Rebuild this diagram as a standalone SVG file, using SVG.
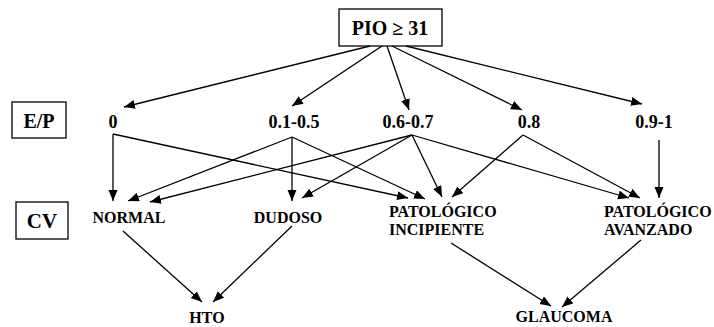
<svg xmlns="http://www.w3.org/2000/svg" width="714" height="327" viewBox="0 0 714 327">
  <defs>
    <marker id="arrow" markerUnits="userSpaceOnUse" markerWidth="12" markerHeight="10" refX="11" refY="4.5" orient="auto">
      <path d="M0,0 L11,4.5 L0,9 z" fill="#000"/>
    </marker>
    <style>
      .box { fill: #fff; stroke: #000; stroke-width: 1.3; }
      .big { font-size: 20px; }
      .lvl1 { font-size: 18px; text-anchor: middle; }
      .lvl2 { font-size: 16px; }
      .mid { text-anchor: middle; }
      #connectors line { stroke: #000; stroke-width: 1.3; marker-end: url(#arrow); }
    </style>
  </defs>
  <rect width="714" height="327" fill="#fff"/>

  <g font-family="Liberation Serif, Times New Roman, serif" font-weight="bold" fill="#000">
    <!-- root -->
    <g id="pio">
      <rect class="box" x="339" y="9" width="103" height="37"/>
      <text class="big mid" x="390" y="35">PIO ≥ 31</text>
    </g>

    <!-- row headers -->
    <g id="ep-label">
      <rect class="box" x="12" y="102" width="54" height="36"/>
      <text class="big mid" x="39" y="128">E/P</text>
    </g>
    <g id="cv-label">
      <rect class="box" x="16" y="202" width="52" height="37"/>
      <text class="mid" x="42" y="228" font-size="21">CV</text>
    </g>

    <!-- E/P values -->
    <g id="ep-0"><text class="lvl1" x="113" y="128">0</text></g>
    <g id="ep-01-05"><text class="lvl1" x="294" y="128">0.1-0.5</text></g>
    <g id="ep-06-07"><text class="lvl1" x="408" y="128">0.6-0.7</text></g>
    <g id="ep-08"><text class="lvl1" x="529" y="128">0.8</text></g>
    <g id="ep-09-1"><text class="lvl1" x="654" y="128">0.9-1</text></g>

    <!-- CV categories -->
    <g id="cv-normal"><text class="lvl2 mid" x="129" y="223">NORMAL</text></g>
    <g id="cv-dudoso"><text class="lvl2 mid" x="288" y="223">DUDOSO</text></g>
    <g id="cv-incipiente">
      <text class="lvl2" x="389" y="217">PATOLÓGICO</text>
      <text class="lvl2" x="389" y="235">INCIPIENTE</text>
    </g>
    <g id="cv-avanzado">
      <text class="lvl2" x="604" y="217">PATOLÓGICO</text>
      <text class="lvl2" x="604" y="235">AVANZADO</text>
    </g>

    <!-- outcomes -->
    <g id="hto"><text class="lvl2 mid" x="207" y="323">HTO</text></g>
    <g id="glaucoma"><text class="lvl2 mid" x="564" y="322">GLAUCOMA</text></g>
  </g>

  <g id="connectors">
    <!-- PIO to E/P -->
    <line x1="370" y1="46" x2="124" y2="107"/>
    <line x1="382" y1="46" x2="292" y2="106"/>
    <line x1="387" y1="46" x2="409" y2="110"/>
    <line x1="392" y1="46" x2="522" y2="110"/>
    <line x1="406" y1="46" x2="642" y2="104"/>

    <!-- E/P to CV -->
    <line x1="113" y1="134" x2="113" y2="201"/>
    <line x1="113" y1="134" x2="408" y2="198"/>
    <line x1="292" y1="137" x2="128" y2="201"/>
    <line x1="292" y1="137" x2="292" y2="201"/>
    <line x1="292" y1="137" x2="425" y2="199"/>
    <line x1="412" y1="135" x2="150" y2="202"/>
    <line x1="412" y1="135" x2="302" y2="198"/>
    <line x1="412" y1="135" x2="442" y2="197"/>
    <line x1="412" y1="135" x2="629" y2="198"/>
    <line x1="523" y1="135" x2="452" y2="197"/>
    <line x1="523" y1="135" x2="640" y2="198"/>
    <line x1="659" y1="140" x2="659" y2="198"/>

    <!-- CV to outcome -->
    <line x1="123" y1="231" x2="202" y2="302"/>
    <line x1="292" y1="226" x2="213" y2="302"/>
    <line x1="451" y1="243" x2="551" y2="306"/>
    <line x1="641" y1="240" x2="562" y2="307"/>
  </g>
</svg>
